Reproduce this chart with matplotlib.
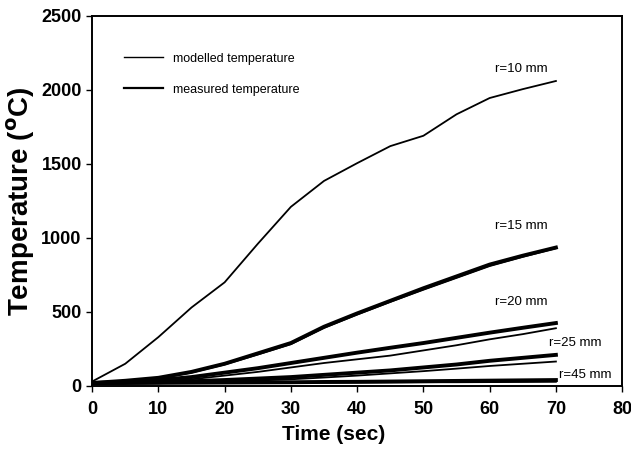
import numpy as np
import matplotlib.pyplot as plt
from matplotlib.lines import Line2D

plt.rcParams['font.family'] = ['Liberation Sans', 'DejaVu Sans']

# time axis (sec)
t = [0, 5, 10, 15, 20, 25, 30, 35, 40, 45, 50, 55, 60, 65, 70]

# modelled temperatures (thin lines)
mod_r10 = [30, 150, 330, 530, 700, 960, 1210, 1385, 1505, 1620, 1690, 1835, 1945, 2005, 2060]
mod_r15 = [20, 32, 50, 90, 145, 212, 282, 392, 482, 568, 650, 730, 810, 872, 930]
mod_r20 = [20, 22, 30, 45, 70, 95, 125, 155, 180, 205, 240, 275, 315, 350, 390]
mod_r25 = [20, 20, 22, 25, 30, 37, 45, 57, 70, 85, 100, 117, 135, 150, 165]
mod_r45 = [20, 20, 20, 20, 21, 21, 22, 22, 23, 24, 25, 25, 26, 27, 28]

# measured temperatures (thick lines)
meas_r15 = [20, 35, 55, 95, 150, 220, 290, 400, 490, 575, 660, 740, 820, 880, 935]
meas_r20 = [20, 25, 40, 60, 90, 120, 155, 190, 225, 258, 290, 325, 360, 393, 425]
meas_r25 = [20, 22, 25, 32, 40, 50, 60, 75, 90, 105, 125, 145, 170, 190, 210]
meas_r45 = [20, 20, 21, 22, 23, 24, 25, 27, 28, 30, 32, 34, 36, 38, 40]

labels = ['r=10 mm', 'r=15 mm', 'r=20 mm', 'r=25 mm', 'r=45 mm']
label_pos = [(60.8, 2140), (60.8, 1080), (60.8, 565), (69.0, 290), (70.4, 72)]

fig = plt.figure(figsize=(6.31, 4.53), dpi=100)
ax = fig.add_axes([0.146, 0.148, 0.840, 0.817])

for y in [mod_r10, mod_r15, mod_r20, mod_r25, mod_r45]:
    ax.plot(t, y, color='black', lw=1.3)
for y in [meas_r15, meas_r20, meas_r25, meas_r45]:
    ax.plot(t, y, color='black', lw=2.8)

for txt, (x, y) in zip(labels, label_pos):
    ax.text(x, y, txt, fontsize=9.5, ha='left', va='center')

handles = [Line2D([], [], color='black', lw=1.0),
           Line2D([], [], color='black', lw=1.6)]
ax.legend(handles, ['modelled temperature', 'measured temperature'],
          loc='upper left', bbox_to_anchor=(0.06, 0.90), frameon=False,
          borderaxespad=0, borderpad=0,
          fontsize=9, handlelength=3.1, handletextpad=0.8, labelspacing=1.5)

ax.set_xlim(0, 80)
ax.set_ylim(0, 2500)
ax.set_xticks(range(0, 81, 10))
ax.set_yticks(range(0, 2501, 500))
ax.tick_params(direction='out', length=4, width=1, labelsize=13)
ax.tick_params(axis='x', pad=7)
for lab in ax.get_xticklabels() + ax.get_yticklabels():
    lab.set_fontweight('bold')
for s in ax.spines.values():
    s.set_linewidth(1.4)

ax.set_xlabel('Time (sec)', fontsize=15, fontweight='bold', labelpad=6)
ax.xaxis.set_label_coords(0.455, -0.105)
ax.set_ylabel(r'Temperature ($^{\mathbf{o}}$C)', fontsize=20, fontweight='bold', labelpad=3)

fig.savefig('out.png', dpi=100)
